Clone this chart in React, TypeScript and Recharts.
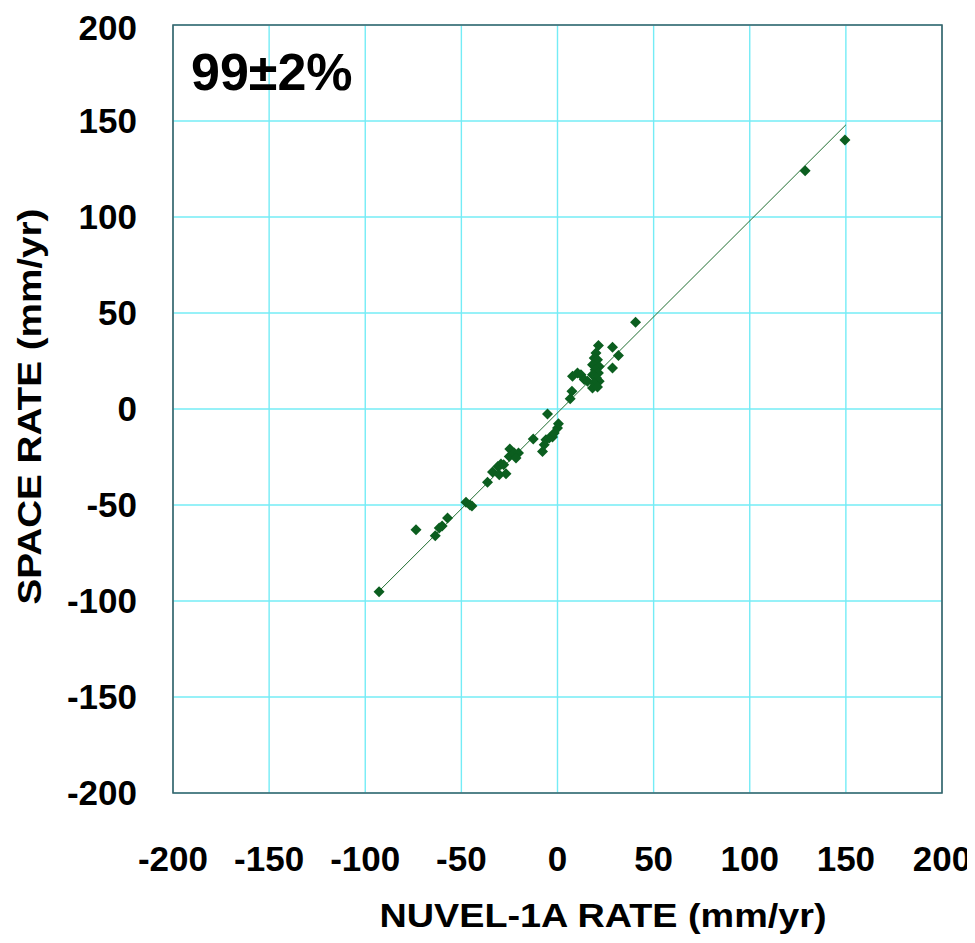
import React from "react";
import {
  ScatterChart,
  Scatter,
  XAxis,
  YAxis,
  ZAxis,
  CartesianGrid,
  ReferenceArea,
} from "recharts";

// NUVEL-1A rate (x) vs space-geodetic rate (y), mm/yr
const nuvelRates = [
  -92.8, -73.6, -63.6, -61.5, -60, -57.2, -47.6, -45.5, -44.5, -36.4, -33.8,
  -29.4, -31, -30.3, -26.8, -28, -24.8, -25.1, -22.5, -20.3, -21.6, -12.6,
  -5.2, -7.8, -6.9, -6, -4.3, -2.6, -1.7, 0, 0.5, 6.6, 7.5, 7.8, 10.4, 12.2,
  13.9, 15.6, 20.0, 19.1, 20.8, 18.2, 21.7, 19.6, 21.3, 18.2, 20.3, 21.7, 19.1,
  18.2, 20.8, 21.3, 28.6, 31.7, 28.6, 40.6, 128.8, 149.5,
];
const spaceRates = [
  -95.2, -62.9, -66, -62, -61, -56.8, -48.6, -50, -50.5, -38.2, -32.8, -28.6,
  -30, -34.2, -33.7, -29, -20.8, -24.7, -22.9, -22.9, -25.5, -15.6, -2.6,
  -22.2, -18.6, -16, -15.1, -14.6, -12.5, -9.9, -7.7, 5.4, 9.2, 17, 18.8, 17.9,
  15.3, 14.4, 29.2, 26.6, 25.7, 23.1, 22.2, 20.5, 18.8, 17.9, 16.2, 14.4, 13.6,
  11.0, 11.5, 33.1, 32.1, 27.9, 21.3, 45.2, 124.1, 140.1,
];

// fitted line end points
const fitX = [-93, 150];
const fitY = [-95, 148];

const axisTicks = [-200, -150, -100, -50, 0, 50, 100, 150, 200];

const points = nuvelRates.map((x, i) => ({ x, y: spaceRates[i] }));
const fitLine = fitX.map((x, i) => ({ x, y: fitY[i] }));

const FONT = '"Liberation Sans", Arial, Helvetica, sans-serif';
const GRID = "#74ecf6";
const BORDER = "#3e5f66";
const DOT = "#0b5e1f";

const Diamond = (props: any) => {
  const { cx, cy } = props;
  if (cx == null || cy == null) return <g />;
  const r = 5.5;
  return (
    <path
      d={`M${cx},${cy - r}L${cx + r},${cy}L${cx},${cy + r}L${cx - r},${cy}Z`}
      fill={DOT}
    />
  );
};

const NoDot = () => <g />;

const tickStyle = {
  fontSize: 35,
  fontWeight: 700,
  fill: "#000",
  fontFamily: FONT,
};

const renderTitle = (props: any) => {
  const { x, y } = props.viewBox;
  return (
    <text
      x={x + 18}
      y={y + 65}
      fontSize={52}
      fontWeight={700}
      fontFamily={FONT}
      fill="#000"
    >
      99±2%
    </text>
  );
};

const renderXTitle = (props: any) => {
  const { x, y, width } = props.viewBox;
  return (
    <text
      x={x + width / 2 + 45.5}
      y={y + 134}
      textAnchor="middle"
      fontSize={33}
      fontWeight={700}
      fontFamily={FONT}
      fill="#000"
      textLength={447}
      lengthAdjust="spacingAndGlyphs"
    >
      NUVEL-1A RATE (mm/yr)
    </text>
  );
};

const renderYTitle = (props: any) => {
  const { x, y, height } = props.viewBox;
  const cx = x + 33;
  const cy = y + height / 2 - 2.5;
  return (
    <text
      x={cx}
      y={cy}
      transform={`rotate(-90, ${cx}, ${cy})`}
      textAnchor="middle"
      fontSize={33}
      fontWeight={700}
      fontFamily={FONT}
      fill="#000"
      textLength={396}
      lengthAdjust="spacingAndGlyphs"
    >
      SPACE RATE (mm/yr)
    </text>
  );
};

export default function App() {
  return (
    <div style={{ width: 967, height: 935, background: "#fff" }}>
      <ScatterChart
        width={967}
        height={935}
        margin={{ top: 17, right: 33, left: 0, bottom: 0 }}
      >
        <CartesianGrid stroke={GRID} strokeWidth={1.4} />
        <XAxis
          type="number"
          dataKey="x"
          domain={[-200, 200]}
          ticks={axisTicks}
          allowDataOverflow
          height={150}
          axisLine={false}
          tickLine={false}
          tickSize={0}
          tickMargin={53}
          tick={tickStyle}
          label={renderXTitle}
        />
        <YAxis
          type="number"
          dataKey="y"
          domain={[-200, 200]}
          ticks={axisTicks}
          allowDataOverflow
          width={165}
          axisLine={false}
          tickLine={false}
          tickSize={0}
          tickMargin={36}
          tick={tickStyle}
          label={renderYTitle}
        />
        <ZAxis range={[40, 40]} />
        <ReferenceArea
          x1={-200}
          x2={200}
          y1={-200}
          y2={200}
          fill="none"
          fillOpacity={0}
          stroke={BORDER}
          strokeWidth={1.6}
          label={renderTitle}
        />
        <Scatter
          data={fitLine}
          line={{ stroke: "#1f6e30", strokeWidth: 1 }}
          shape={NoDot}
          isAnimationActive={false}
        />
        <Scatter data={points} shape={Diamond} isAnimationActive={false} />
      </ScatterChart>
    </div>
  );
}
